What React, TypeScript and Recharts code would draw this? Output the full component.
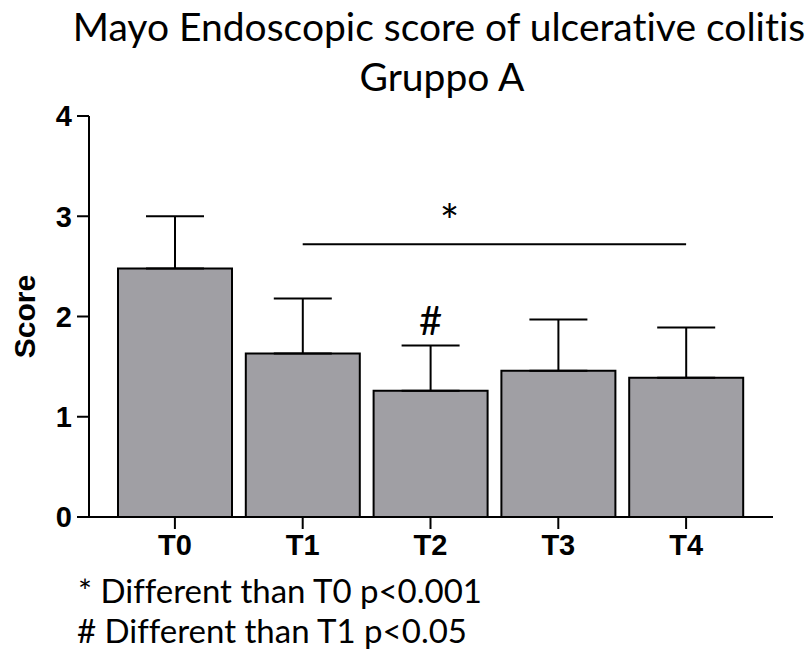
import React from 'react';
import {
  BarChart, Bar, XAxis, YAxis, ErrorBar, ReferenceLine, ReferenceDot,
} from 'recharts';

const categories = ['T0', 'T1', 'T2', 'T3', 'T4'];
const meanScores = [2.48, 1.63, 1.26, 1.46, 1.39];
const sdScores = [0.52, 0.55, 0.45, 0.51, 0.5];
const yTicks = [0, 1, 2, 3, 4];

const data = categories.map((time, i) => ({
  time,
  score: meanScores[i],
  sd: [0, sdScores[i]],
}));

const AXIS_FONT = '"Liberation Sans", Arial, sans-serif';
const TEXT_FONT = 'Lato, "Open Sans", sans-serif';
const noLig = { fontVariantLigatures: 'none' as const };

const Mark = (props: any) => {
  const { viewBox, text, size, dx = 0 } = props;
  const cx = viewBox.x + viewBox.width / 2;
  const cy = viewBox.y + viewBox.height / 2;
  return (
    <text x={cx + dx} y={cy} textAnchor="middle" fontFamily={TEXT_FONT} fontSize={size} fill="#000">
      {text}
    </text>
  );
};

export default function App() {
  return (
    <div style={{ position: 'absolute', left: 0, top: 0, width: 811, height: 664, background: '#fff' }}>
      <BarChart
        width={811}
        height={664}
        data={data}
        margin={{ top: 116, right: 38, bottom: 107, left: 0 }}
        barCategoryGap={7}
      >
        <XAxis
          dataKey="time"
          height={40}
          padding={{ left: 22, right: 23 }}
          axisLine={{ stroke: '#000', strokeWidth: 2 }}
          tickLine={{ stroke: '#000', strokeWidth: 2 }}
          tickSize={12}
          tickMargin={5}
          tick={{ fill: '#000', fontSize: 29, fontWeight: 700, fontFamily: AXIS_FONT }}
        />
        <YAxis
          width={89}
          domain={[0, 4]}
          ticks={yTicks}
          axisLine={{ stroke: '#000', strokeWidth: 2 }}
          tickLine={{ stroke: '#000', strokeWidth: 2 }}
          tickSize={12}
          tickMargin={5}
          tick={{ fill: '#000', fontSize: 29, fontWeight: 700, fontFamily: AXIS_FONT }}
          label={{
            value: 'Score',
            angle: -90,
            position: 'center',
            dx: -20,
            fill: '#000',
            fontSize: 30,
            fontWeight: 700,
            fontFamily: AXIS_FONT,
          }}
        />
        <Bar dataKey="score" fill="#a09fa4" stroke="#000" strokeWidth={2} isAnimationActive={false}>
          <ErrorBar dataKey="sd" width={29} stroke="#000" strokeWidth={2} direction="y" isAnimationActive={false} />
        </Bar>
        <ReferenceLine
          segment={[{ x: 'T1', y: 2.72 }, { x: 'T4', y: 2.72 }]}
          stroke="#000"
          strokeWidth={2}
        />
        <ReferenceDot x="T2" y={2.78} r={0} fill="none" stroke="none"
          label={(p: any) => <Mark {...p} text="*" size={46} dx={19} />} />
        <ReferenceDot x="T2" y={1.82} r={0} fill="none" stroke="none"
          label={(p: any) => <Mark {...p} text="#" size={40} />} />
      </BarChart>
      <svg width={811} height={664} style={{ position: 'absolute', left: 0, top: 0, pointerEvents: 'none' }}>
        <text x={439} y={41} textAnchor="middle" fontFamily={TEXT_FONT} fontSize={39} fill="#000" style={noLig}>
          Mayo Endoscopic score of ulcerative colitis
        </text>
        <text x={442} y={91} textAnchor="middle" fontFamily={TEXT_FONT} fontSize={39} fill="#000" style={noLig}>
          Gruppo A
        </text>
        <text x={78} y={603} fontFamily={TEXT_FONT} fontSize={33} fill="#000" style={noLig}>
          * Different than T0 p&lt;0.001
        </text>
        <text x={77} y={643} fontFamily={TEXT_FONT} fontSize={33} fill="#000" style={noLig}>
          # Different than T1 p&lt;0.05
        </text>
      </svg>
    </div>
  );
}
